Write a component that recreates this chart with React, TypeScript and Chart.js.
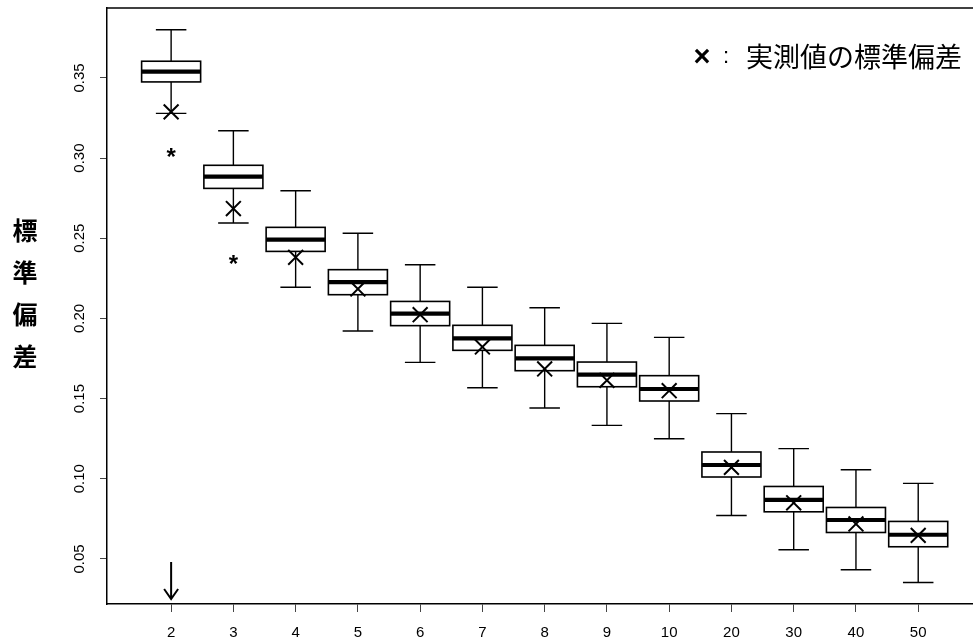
import React, { useEffect, useRef } from 'react';
import { Chart, registerables } from 'chart.js';

Chart.register(...registerables);

// ---- data ----
const categories = ['2', '3', '4', '5', '6', '7', '8', '9', '10', '20', '30', '40', '50'];
const whiskerHigh = [0.380, 0.317, 0.2796, 0.2531, 0.2335, 0.2194, 0.2067, 0.1969, 0.1882, 0.1406, 0.1188, 0.1056, 0.0971];
const q3Values = [0.3604, 0.2955, 0.2568, 0.2304, 0.2106, 0.1957, 0.1832, 0.1728, 0.1643, 0.1167, 0.0952, 0.0821, 0.0734];
const medianValues = [0.3539, 0.2884, 0.2491, 0.2227, 0.2030, 0.1876, 0.1751, 0.1649, 0.1560, 0.1086, 0.0869, 0.0743, 0.0651];
const q1Values = [0.3475, 0.2811, 0.2418, 0.2148, 0.1955, 0.1801, 0.1674, 0.1574, 0.1485, 0.1011, 0.0794, 0.0665, 0.0576];
const whiskerLow = [0.3279, 0.2595, 0.2194, 0.1922, 0.1726, 0.1568, 0.1441, 0.1333, 0.1250, 0.0771, 0.0557, 0.0433, 0.0353];
const observedSD = [0.3288, 0.2685, 0.2381, 0.2184, 0.2023, 0.1822, 0.1685, 0.1614, 0.1549, 0.1071, 0.0850, 0.0718, 0.0647];
const outlierCategories = ['2', '3'];
const outlierValues = [0.3032, 0.2367];
const yTicks = [0.05, 0.10, 0.15, 0.20, 0.25, 0.30, 0.35];
const yTitle = '標準偏差';
const legendMark = '×';
const legendSep = ':';
const legendLabel = '実測値の標準偏差';
const arrowCategory = '2';

// ---- styles ----
const LATIN = '"Liberation Sans", Arial, sans-serif';
const CJK = '"Noto Sans CJK JP", "Noto Sans CJK SC", sans-serif';
const BOX_HALF = 0.474;
const CAP_HALF = 0.245;

const boxPlugin = {
  id: 'boxplots',
  beforeDatasetsDraw(chart: any) {
    const { ctx, scales } = chart;
    const x = scales.x;
    const y = scales.y;
    ctx.save();
    categories.forEach((_, i) => {
      const cx = x.getPixelForValue(i);
      const half = x.getPixelForValue(i + BOX_HALF) - cx;
      const cap = x.getPixelForValue(i + CAP_HALF) - cx;
      const yHi = y.getPixelForValue(whiskerHigh[i]);
      const yQ3 = y.getPixelForValue(q3Values[i]);
      const yMed = y.getPixelForValue(medianValues[i]);
      const yQ1 = y.getPixelForValue(q1Values[i]);
      const yLo = y.getPixelForValue(whiskerLow[i]);
      ctx.strokeStyle = '#000';
      ctx.lineWidth = 1.4;
      ctx.beginPath();
      ctx.moveTo(cx, yQ3);
      ctx.lineTo(cx, yHi);
      ctx.moveTo(cx, yQ1);
      ctx.lineTo(cx, yLo);
      ctx.moveTo(cx - cap, yHi);
      ctx.lineTo(cx + cap, yHi);
      ctx.moveTo(cx - cap, yLo);
      ctx.lineTo(cx + cap, yLo);
      ctx.stroke();
      ctx.fillStyle = '#fff';
      ctx.fillRect(cx - half, yQ3, half * 2, yQ1 - yQ3);
      ctx.lineWidth = 1.6;
      ctx.strokeRect(cx - half, yQ3, half * 2, yQ1 - yQ3);
      ctx.lineWidth = 4.2;
      ctx.beginPath();
      ctx.moveTo(cx - half, yMed);
      ctx.lineTo(cx + half, yMed);
      ctx.stroke();
    });
    ctx.restore();
  },
};

const decorPlugin = {
  id: 'decor',
  afterDraw(chart: any) {
    const { ctx, chartArea, scales } = chart;
    const x = scales.x;
    ctx.save();
    // top frame line
    ctx.strokeStyle = '#000';
    ctx.lineWidth = 1.5;
    ctx.beginPath();
    ctx.moveTo(chartArea.left, chartArea.top);
    ctx.lineTo(chartArea.right, chartArea.top);
    ctx.stroke();

    // asterisks (outliers) at dataset element positions
    const meta = chart.getDatasetMeta(1);
    ctx.fillStyle = '#000';
    ctx.font = `bold 24px ${LATIN}`;
    ctx.textAlign = 'center';
    ctx.textBaseline = 'alphabetic';
    meta.data.forEach((el: any) => {
      const m = ctx.measureText('*');
      const off = (m.actualBoundingBoxAscent - m.actualBoundingBoxDescent) / 2;
      ctx.fillText('*', el.x, el.y + off);
    });

    // arrow
    const ai = categories.indexOf(arrowCategory);
    const ax = x.getPixelForValue(ai);
    const tip = chartArea.bottom - 5;
    ctx.lineWidth = 2;
    ctx.beginPath();
    ctx.moveTo(ax, chartArea.bottom - 42);
    ctx.lineTo(ax, tip);
    ctx.moveTo(ax - 7, tip - 10);
    ctx.lineTo(ax, tip);
    ctx.lineTo(ax + 7, tip - 10);
    ctx.stroke();

    // y title, stacked characters
    ctx.font = `bold 25px ${CJK}`;
    ctx.textAlign = 'center';
    ctx.textBaseline = 'middle';
    Array.from(yTitle).forEach((ch, k) => {
      ctx.fillText(ch, 25, 230 + k * 42);
    });

    // legend
    ctx.font = `bold 29px ${LATIN}`;
    ctx.textBaseline = 'middle';
    ctx.fillText(legendMark, 702, 58);
    ctx.font = `22px ${LATIN}`;
    ctx.fillText(legendSep, 726, 57);
    ctx.font = `27px ${CJK}`;
    ctx.textAlign = 'left';
    ctx.fillText(legendLabel, 746, 57);
    ctx.restore();
  },
};

export default function App() {
  const ref = useRef<HTMLCanvasElement | null>(null);
  useEffect(() => {
    if (!ref.current) return;
    const chart = new Chart(ref.current, {
      type: 'scatter',
      data: {
        datasets: [
          {
            label: legendLabel,
            data: observedSD.map((v, i) => ({ x: i, y: v })),
            pointStyle: 'crossRot',
            pointRadius: 10.5,
            pointHoverRadius: 10.5,
            borderColor: '#000',
            backgroundColor: '#000',
            borderWidth: 2,
          },
          {
            label: 'outliers',
            data: outlierValues.map((v, k) => ({ x: categories.indexOf(outlierCategories[k]), y: v })),
            pointRadius: 0,
            pointHoverRadius: 0,
          },
        ],
      },
      options: {
        animation: false,
        responsive: false,
        devicePixelRatio: 1,
        events: [],
        layout: { autoPadding: false, padding: { top: 8, left: 0, right: 0, bottom: 0 } },
        plugins: {
          legend: { display: false },
          tooltip: { enabled: false },
        },
        scales: {
          x: {
            type: 'linear',
            min: -1.03,
            max: 12.88,
            afterBuildTicks: (s: any) => {
              s.ticks = categories.map((_, i) => ({ value: i }));
            },
            afterFit: (s: any) => {
              s.height = 39;
              s.paddingLeft = 0;
              s.paddingRight = 0;
            },
            ticks: {
              callback: (v: any) => categories[v],
              autoSkip: false,
              maxRotation: 0,
              minRotation: 0,
              padding: 12,
              color: '#000',
              font: { family: LATIN, size: 15 },
            },
            grid: { drawOnChartArea: false, drawTicks: true, tickLength: 8, color: '#444', lineWidth: 1 },
            border: { display: true, color: '#000', width: 1.5 },
          },
          y: {
            type: 'linear',
            min: 0.0219,
            max: 0.3936,
            afterBuildTicks: (s: any) => {
              s.ticks = yTicks.map((v) => ({ value: v }));
            },
            afterFit: (s: any) => {
              s.width = 107;
              s.paddingTop = 0;
              s.paddingBottom = 0;
            },
            ticks: {
              callback: (v: any) => Number(v).toFixed(2),
              minRotation: 90,
              maxRotation: 90,
              crossAlign: 'center',
              padding: 6,
              color: '#000',
              font: { family: LATIN, size: 15 },
            },
            grid: { drawOnChartArea: false, drawTicks: true, tickLength: 7, color: '#444', lineWidth: 1 },
            border: { display: true, color: '#000', width: 1.5 },
          },
        },
      } as any,
      plugins: [boxPlugin, decorPlugin],
    });
    return () => chart.destroy();
  }, []);
  return (
    <canvas
      ref={ref}
      width={973}
      height={643}
      style={{ position: 'absolute', left: 0, top: 0, width: 973, height: 643, display: 'block' }}
    />
  );
}
